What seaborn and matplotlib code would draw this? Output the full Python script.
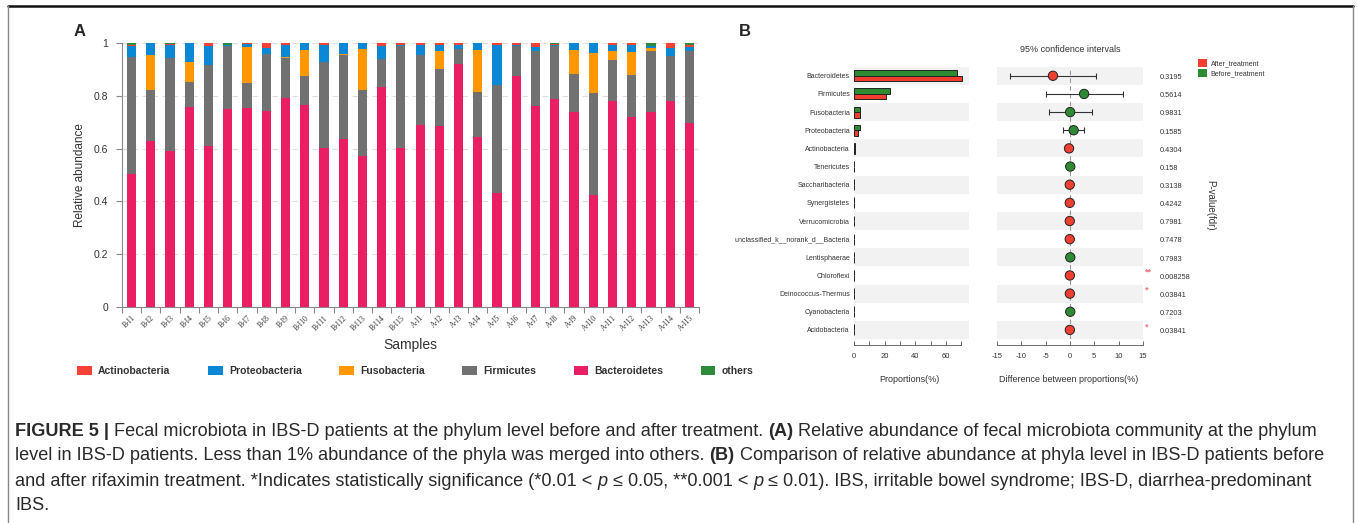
import numpy as np
import pandas as pd
import matplotlib
matplotlib.use("Agg")
import matplotlib.pyplot as plt
import seaborn as sns
from matplotlib.lines import Line2D
from matplotlib.patches import Patch
import matplotlib.transforms as mtransforms

# ---------------- data : panel A ----------------
samples = ['B-I1', 'B-I2', 'B-I3', 'B-I4', 'B-I5', 'B-I6', 'B-I7', 'B-I8', 'B-I9', 'B-I10',
           'B-I11', 'B-I12', 'B-I13', 'B-I14', 'B-I15',
           'A-I1', 'A-I2', 'A-I3', 'A-I4', 'A-I5', 'A-I6', 'A-I7', 'A-I8', 'A-I9', 'A-I10',
           'A-I11', 'A-I12', 'A-I13', 'A-I14', 'A-I15']
bacteroidetes = [0.503, 0.630, 0.591, 0.758, 0.610, 0.751, 0.755, 0.744, 0.793, 0.766,
                 0.601, 0.636, 0.573, 0.835, 0.602,
                 0.688, 0.686, 0.922, 0.643, 0.431, 0.875, 0.761, 0.788, 0.739, 0.423,
                 0.782, 0.721, 0.739, 0.779, 0.698]
firmicutes = [0.445, 0.192, 0.352, 0.093, 0.308, 0.236, 0.092, 0.214, 0.149, 0.110,
              0.328, 0.317, 0.249, 0.103, 0.385,
              0.268, 0.216, 0.057, 0.173, 0.409, 0.112, 0.208, 0.202, 0.145, 0.388,
              0.154, 0.157, 0.230, 0.172, 0.272]
fusobacteria = [0.0, 0.134, 0.0, 0.076, 0.0, 0.0, 0.139, 0.0, 0.004, 0.097,
                0.0, 0.007, 0.154, 0.0, 0.0,
                0.0, 0.069, 0.0, 0.157, 0.0, 0.0, 0.0, 0.0, 0.089, 0.150,
                0.032, 0.087, 0.013, 0.0, 0.0]
proteobacteria = [0.040, 0.044, 0.049, 0.073, 0.069, 0.007, 0.011, 0.024, 0.046, 0.027,
                  0.063, 0.040, 0.024, 0.052, 0.007,
                  0.035, 0.023, 0.015, 0.027, 0.151, 0.007, 0.016, 0.004, 0.027, 0.039,
                  0.023, 0.029, 0.008, 0.029, 0.015]
actinobacteria = [0.006, 0.0, 0.003, 0.0, 0.013, 0.0, 0.003, 0.018, 0.008, 0.0,
                  0.008, 0.0, 0.0, 0.010, 0.006,
                  0.009, 0.006, 0.006, 0.0, 0.009, 0.006, 0.015, 0.002, 0.0, 0.0,
                  0.009, 0.006, 0.0, 0.020, 0.009]
others = [0.006, 0.0, 0.005, 0.0, 0.0, 0.006, 0.0, 0.0, 0.0, 0.0,
          0.0, 0.0, 0.0, 0.0, 0.0,
          0.0, 0.0, 0.0, 0.0, 0.0, 0.0, 0.0, 0.004, 0.0, 0.0,
          0.0, 0.0, 0.010, 0.0, 0.006]
legend_labels = ['Actinobacteria', 'Proteobacteria', 'Fusobacteria', 'Firmicutes', 'Bacteroidetes', 'others']
yticks_a = [0, 0.2, 0.4, 0.6, 0.8, 1.0]
yticklabels_a = ['0', '0.2', '0.4', '0.6', '0.8', '1']

# ---------------- data : panel B ----------------
phyla_b = ['Bacteroidetes', 'Firmicutes', 'Fusobacteria', 'Proteobacteria', 'Actinobacteria',
           'Tenericutes', 'Saccharibacteria', 'Synergistetes', 'Verrucomicrobia',
           'unclassified_k__norank_d__Bacteria', 'Lentisphaerae', 'Chloroflexi',
           'Deinococcus-Thermus', 'Cyanobacteria', 'Acidobacteria']
before_pct = [67.0, 23.7, 4.0, 3.6, 0.35, 0.2, 0.15, 0.1, 0.1, 0.1, 0.1, 0.02, 0.02, 0.1, 0.02]
after_pct = [70.4, 20.7, 4.0, 2.8, 0.5, 0.1, 0.2, 0.15, 0.15, 0.15, 0.05, 0.06, 0.06, 0.05, 0.06]
diff_pct = [-3.5, 2.9, 0.03, 0.75, -0.2, 0.05, -0.05, -0.05, -0.05, -0.05, 0.05, -0.03, -0.03, 0.05, -0.03]
ci_low = [-12.3, -5.0, -4.4, -1.5, -0.5, -0.15, -0.25, -0.2, -0.2, -0.2, -0.15, -0.1, -0.1, -0.1, -0.1]
ci_high = [5.4, 10.8, 4.45, 2.95, 0.15, 0.2, 0.15, 0.1, 0.1, 0.1, 0.2, 0.05, 0.05, 0.2, 0.05]
p_values = ['0.3195', '0.5614', '0.9831', '0.1585', '0.4304', '0.158', '0.3138', '0.4242',
            '0.7981', '0.7478', '0.7983', '0.008258', '0.03841', '0.7203', '0.03841']
stars = ['', '', '', '', '', '', '', '', '', '', '', '**', '*', '', '*']
groups = ['After_treatment', 'Before_treatment']
xticks_bl = [0, 10, 20, 30, 40, 50, 60, 70]
xticklabels_bl = ['0', '', '20', '', '40', '', '60', '']
xticks_br = [-15, -10, -5, 0, 5, 10, 15]

# ---------------- style ----------------
sns.set_theme(style="white")
plt.rcParams['font.family'] = ['Liberation Sans', 'DejaVu Sans']

C_BACT = '#E91E63'
C_FIRM = '#717171'
C_FUSO = '#FF9800'
C_PROT = '#0A88D6'
C_ACTI = '#F44336'
C_OTH = '#2E8B3C'
C_AFTER = '#F03E30'
C_BEFORE = '#2E8B34'

W, H = 1357, 523
fig = plt.figure(figsize=(W / 100, H / 100), dpi=100)
fig.patch.set_facecolor('white')


def fx(px):
    return px / W


def fy(py):
    return 1 - py / H


# ---------------- panel A ----------------
axA = fig.add_axes([fx(122), fy(307), fx(699) - fx(122), fy(43) - fy(307)])
layers = [bacteroidetes, firmicutes, fusobacteria, proteobacteria, actinobacteria, others]
colors = [C_BACT, C_FIRM, C_FUSO, C_PROT, C_ACTI, C_OTH]
cum = np.cumsum(np.array(layers), axis=0)
for i in range(len(layers) - 1, -1, -1):
    df = pd.DataFrame({'sample': samples, 'value': cum[i]})
    sns.barplot(data=df, x='sample', y='value', order=samples, color=colors[i],
                saturation=1, width=0.48, linewidth=0, ax=axA, zorder=2)
axA.set_xlim(-0.5, len(samples) - 0.5)
axA.set_ylim(0, 1.0)
axA.set_yticks(yticks_a)
axA.set_yticklabels(yticklabels_a)
axA.yaxis.grid(True, linestyle=(0, (5, 4)), color='#DDDDDD', linewidth=0.8)
axA.xaxis.grid(False)
axA.set_axisbelow(True)
for s in ['top', 'right']:
    axA.spines[s].set_visible(False)
for s in ['left', 'bottom']:
    axA.spines[s].set_color('#888888')
    axA.spines[s].set_linewidth(0.8)
axA.tick_params(axis='y', which='major', direction='out', length=4, width=0.8, color='#888888',
                left=True, pad=6, labelsize=7.5, labelcolor='#333333')
axA.set_xticks(range(len(samples)))
axA.set_xticklabels(samples, rotation=45, ha='right', rotation_mode='anchor',
                    family='Liberation Serif')
axA.tick_params(axis='x', which='major', length=0, pad=5, labelsize=5.5, labelcolor='#333333')
axA.set_xticks(np.arange(-0.5, len(samples), 1.0), minor=True)
axA.tick_params(axis='x', which='minor', direction='out', length=4, width=0.8, color='#888888', bottom=True)
axA.set_xlabel('')
axA.set_ylabel('')
fig.text(fx(80), fy(175), 'Relative abundance', rotation=90, ha='center', va='center',
         fontsize=8.5, color='#333333')
fig.text(fx(410), fy(345), 'Samples', ha='center', va='center', fontsize=10, color='#333333')

leg_colors = [C_ACTI, C_PROT, C_FUSO, C_FIRM, C_BACT, C_OTH]
handlesA = [Patch(facecolor=c, edgecolor='none') for c in leg_colors]
legA = fig.legend(handlesA, legend_labels, loc='center left', bbox_to_anchor=(fx(68), fy(371)),
                  ncol=6, frameon=False, handlelength=1.4, handleheight=0.9,
                  handletextpad=0.6, columnspacing=3.6, prop={'weight': 'bold', 'size': 7.5})
for t in legA.get_texts():
    t.set_color('#333333')

fig.text(fx(80), fy(32), 'A', fontsize=12, fontweight='bold', ha='center', va='center')
fig.text(fx(745), fy(32), 'B', fontsize=12, fontweight='bold', ha='center', va='center')

# ---------------- panel B left ----------------
rows_top, rows_bot = 66.7, 339
axBL = fig.add_axes([fx(854), fy(rows_bot), fx(969) - fx(854), fy(rows_top) - fy(rows_bot)])
dfb = pd.DataFrame({
    'phylum': phyla_b * 2,
    'pct': before_pct + after_pct,
    'group': ['Before_treatment'] * len(phyla_b) + ['After_treatment'] * len(phyla_b),
})
for i in range(len(phyla_b)):
    if i % 2 == 0:
        axBL.axhspan(i - 0.5, i + 0.5, color='#F2F2F2', zorder=0, linewidth=0)
sns.barplot(data=dfb, y='phylum', x='pct', hue='group', order=phyla_b,
            hue_order=['Before_treatment', 'After_treatment'],
            palette={'Before_treatment': C_BEFORE, 'After_treatment': C_AFTER},
            orient='h', width=0.6, saturation=1, edgecolor='#222222', linewidth=0.7,
            legend=False, ax=axBL, zorder=2)
axBL.set_xlim(0, 75)
axBL.set_ylim(len(phyla_b) - 0.5, -0.5)
axBL.set_xticks(xticks_bl)
axBL.set_xticklabels(xticklabels_bl)
axBL.tick_params(axis='x', direction='in', length=3, width=0.6, color='#555555', bottom=True,
                 pad=6, labelsize=5.5, labelcolor='#333333')
axBL.tick_params(axis='y', length=0, pad=3, labelsize=5, labelcolor='#333333')
for s in ['top', 'right', 'left']:
    axBL.spines[s].set_visible(False)
axBL.spines['bottom'].set_position(('outward', 4))
axBL.spines['bottom'].set_bounds(0, 70)
axBL.spines['bottom'].set_color('#555555')
axBL.spines['bottom'].set_linewidth(0.6)
axBL.set_xlabel('')
axBL.set_ylabel('')
fig.text(fx(909), fy(379), 'Proportions(%)', ha='center', va='center', fontsize=6.5, color='#333333')

# ---------------- panel B right ----------------
axBR = fig.add_axes([fx(997), fy(rows_bot), fx(1143) - fx(997), fy(rows_top) - fy(rows_bot)])
for i in range(len(phyla_b)):
    if i % 2 == 0:
        axBR.axhspan(i - 0.5, i + 0.5, color='#F2F2F2', zorder=0, linewidth=0)
axBR.axvline(0, color='#999999', linestyle=(0, (4, 3)), linewidth=0.8, zorder=1)
ypos = np.arange(len(phyla_b))
diff_arr = np.array(diff_pct)
err = np.vstack([diff_arr - np.array(ci_low), np.array(ci_high) - diff_arr])
axBR.errorbar(diff_arr, ypos, xerr=err, fmt='none', ecolor='#333333', elinewidth=0.8,
              capsize=2.5, capthick=0.8, zorder=2)
dfr = pd.DataFrame({'diff': diff_pct, 'pos': ypos,
                    'group': ['After_treatment' if d < 0 else 'Before_treatment' for d in diff_pct]})
sns.scatterplot(data=dfr, x='diff', y='pos', hue='group',
                palette={'Before_treatment': C_BEFORE, 'After_treatment': C_AFTER},
                s=45, edgecolor='#222222', linewidth=0.7, legend=False, ax=axBR, zorder=3)
axBR.set_xlim(-15, 15)
axBR.set_ylim(len(phyla_b) - 0.5, -0.5)
axBR.set_yticks([])
axBR.set_xticks(xticks_br)
axBR.set_xticklabels([str(v) for v in xticks_br])
axBR.tick_params(axis='x', direction='in', length=3, width=0.6, color='#555555', bottom=True,
                 pad=6, labelsize=5.5, labelcolor='#333333')
for s in ['top', 'right', 'left']:
    axBR.spines[s].set_visible(False)
axBR.spines['bottom'].set_position(('outward', 4))
axBR.spines['bottom'].set_color('#555555')
axBR.spines['bottom'].set_linewidth(0.6)
axBR.set_xlabel('')
axBR.set_ylabel('')
trans = mtransforms.blended_transform_factory(axBR.transAxes, axBR.transData)
for i, (pv, st) in enumerate(zip(p_values, stars)):
    axBR.text(1.115, i + 0.1, pv, transform=trans, fontsize=5.3, va='center', ha='left', color='#333333')
    if st:
        axBR.text(1.01, i - 0.18, st, transform=trans, fontsize=6.5, va='center', ha='left',
                  color='#F0707A', fontweight='bold')
fig.text(fx(1069), fy(379), 'Difference between proportions(%)', ha='center', va='center',
         fontsize=6.5, color='#333333')
fig.text(fx(1070), fy(50), '95% confidence intervals', ha='center', va='center',
         fontsize=6.5, color='#333333')
fig.text(fx(1210), fy(205), 'P-value(fdr)', rotation=270, ha='center', va='center',
         fontsize=7, color='#333333')
handlesB = [Patch(facecolor=C_AFTER, edgecolor='none'), Patch(facecolor=C_BEFORE, edgecolor='none')]
legB = fig.legend(handlesB, groups, loc='upper left', bbox_to_anchor=(fx(1192), fy(53)),
                  frameon=False, fontsize=5, handlelength=1.3, handleheight=1.3,
                  handletextpad=0.5, labelspacing=0.3)
for t in legB.get_texts():
    t.set_color('#333333')

# ---------------- frame ----------------
fig.add_artist(Line2D([fx(8), fx(1353)], [fy(6), fy(6)], color='#111111', linewidth=1.8))
fig.add_artist(Line2D([fx(8), fx(8)], [fy(6), 0], color='#888888', linewidth=1.0))
fig.add_artist(Line2D([fx(1353), fx(1353)], [fy(6), 0], color='#888888', linewidth=1.0))

# ---------------- caption ----------------
renderer = fig.canvas.get_renderer()
cap_size = 13.05
cap_color = '#2A2A2A'


def measure(s, **kw):
    t1 = fig.text(0, 0, s + '|', fontsize=cap_size, **kw)
    t2 = fig.text(0, 0, '|', fontsize=cap_size, **kw)
    w = t1.get_window_extent(renderer).width - t2.get_window_extent(renderer).width
    t1.remove()
    t2.remove()
    return w


def rich_line(x0, y, parts):
    x = x0
    for s, kw in parts:
        fig.text(x, y, s, fontsize=cap_size, va='center', ha='left', color=cap_color, **kw)
        x += measure(s, **kw) / fig.bbox.width


B = {'fontweight': 'bold'}
N = {}
I = {'fontstyle': 'italic'}
rich_line(fx(15), fy(432), [
    ('FIGURE 5 |', B),
    (' Fecal microbiota in IBS-D patients at the phylum level before and after treatment. ', N),
    ('(A)', B),
    (' Relative abundance of fecal microbiota community at the phylum', N)])
rich_line(fx(15), fy(456), [
    ('level in IBS-D patients. Less than 1% abundance of the phyla was merged into others. ', N),
    ('(B)', B),
    (' Comparison of relative abundance at phyla level in IBS-D patients before', N)])
rich_line(fx(15), fy(481), [
    ('and after rifaximin treatment. *Indicates statistically significance (*0.01 < ', N),
    ('p', I),
    (' \u2264 0.05, **0.001 < ', N),
    ('p', I),
    (' \u2264 0.01). IBS, irritable bowel syndrome; IBS-D, diarrhea-predominant', N)])
rich_line(fx(15), fy(505), [('IBS.', N)])

fig.savefig('out.png', dpi=100)
